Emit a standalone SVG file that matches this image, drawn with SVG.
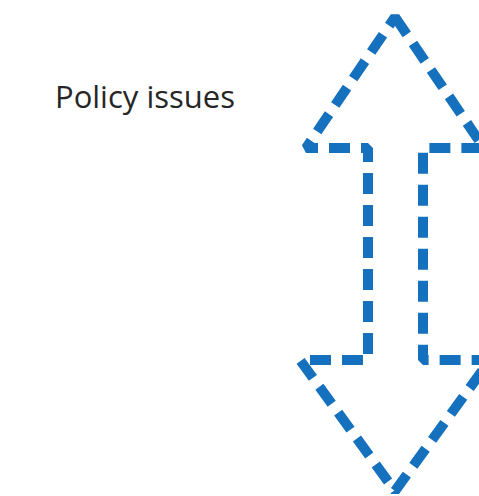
<svg xmlns="http://www.w3.org/2000/svg" width="479" height="496" viewBox="0 0 479 496">
<style>
.arrow{fill:none;stroke:#1570BE;stroke-width:10;stroke-dasharray:21 11;stroke-linejoin:bevel}
.lbl{font-family:"Open Sans","Noto Sans",sans-serif;font-size:31px;fill:#262626}
</style>
<rect width="479" height="496" fill="#fff"/>
<g id="label">
<text class="lbl" x="55" y="108">Policy issues</text>
</g>
<g id="connectors">
<path id="double-arrow" class="arrow" d="M395,17 L484,148 L423,148 L423,360 L490,360 L395,491 L300,360 L368,360 L368,148 L306,148 Z"/>
</g>
</svg>
